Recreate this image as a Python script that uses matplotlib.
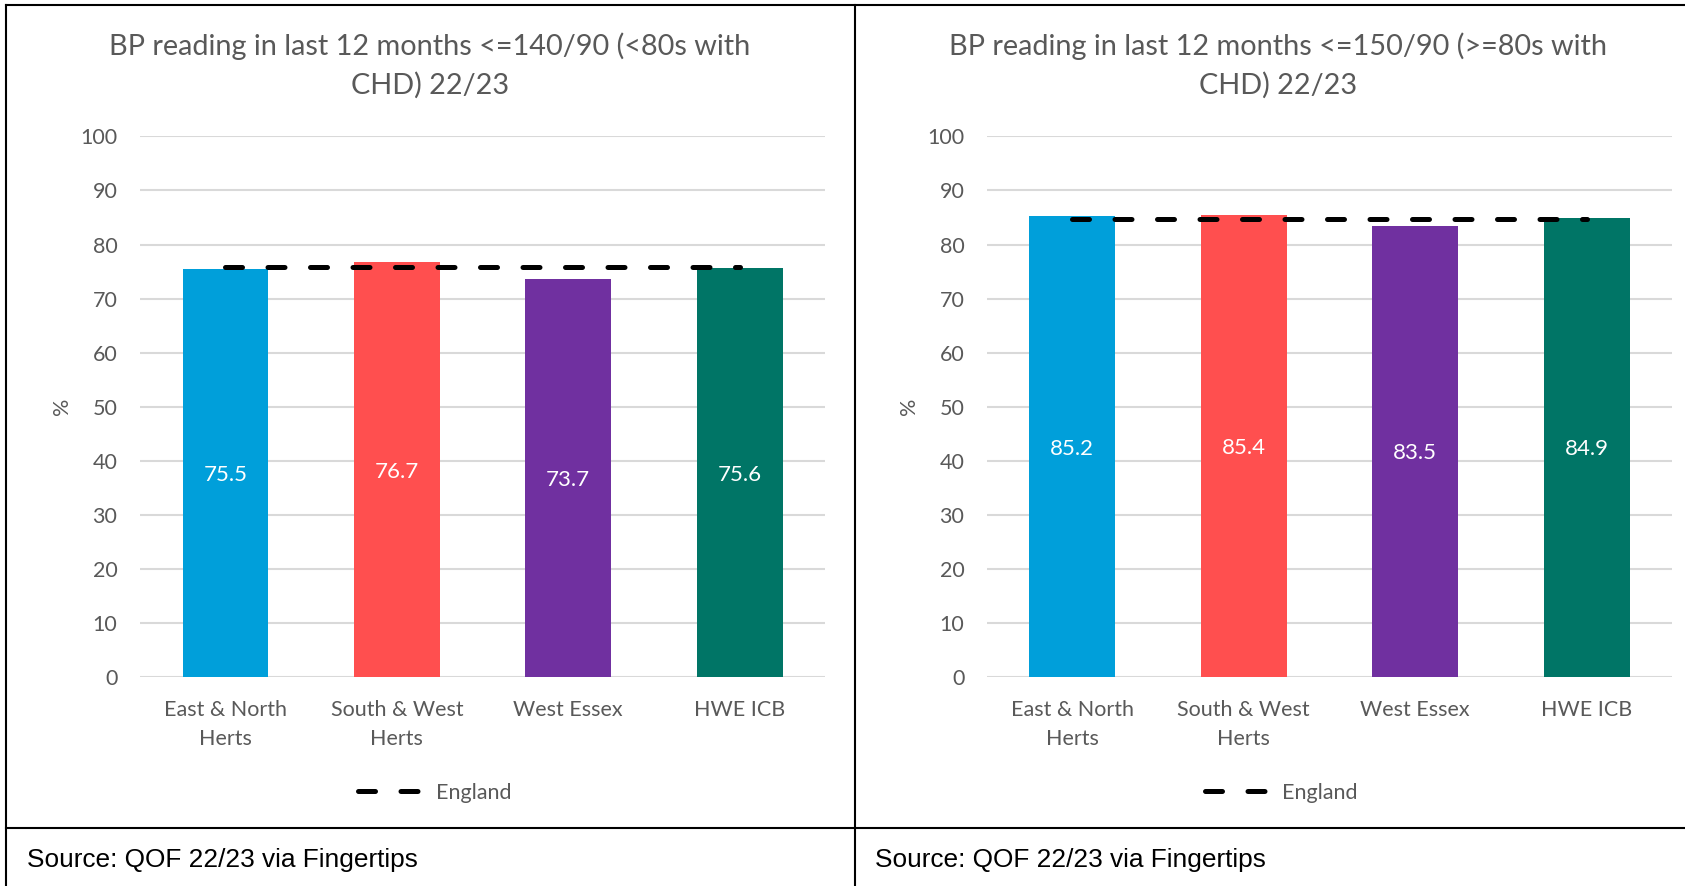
import matplotlib.pyplot as plt
from matplotlib.lines import Line2D

# Data
areas = ['East & North\nHerts', 'South & West\nHerts', 'West Essex', 'HWE ICB']
colours = ['#009FDA', '#FF4F4F', '#7030A0', '#007566']

title_left = 'BP reading in last 12 months <=140/90 (<80s with\nCHD) 22/23'
values_left = [75.5, 76.7, 73.7, 75.6]
england_left = 75.9

title_right = 'BP reading in last 12 months <=150/90 (>=80s with\nCHD) 22/23'
values_right = [85.2, 85.4, 83.5, 84.9]
england_right = 84.7

source = 'Source: QOF 22/23 via Fingertips'

plt.rcParams['font.family'] = ['Lato', 'DejaVu Sans']
grey = '#595959'

fig = plt.figure(figsize=(16.85, 8.86), dpi=100)

# (axes left, title centre x, source x, title, values, england)
panels = [
    (0.0829, 0.2552, 0.016, title_left, values_left, england_left),
    (0.5855, 0.7583, 0.519, title_right, values_right, england_right),
]

for left, tx, sx, title, values, england in panels:
    ax = fig.add_axes([left, 0.236, 0.407, 0.610])
    x = range(len(areas))
    bars = ax.bar(x, values, width=0.5, color=colours, zorder=2)
    for b, v in zip(bars, values):
        ax.text(b.get_x() + b.get_width() / 2, v / 2, f'{v:.1f}', ha='center',
                va='center_baseline', color='white', fontsize=16)
    ax.plot([0, len(areas) - 1], [england, england], color='black', lw=3.6,
            dashes=(3.4, 5.1), dash_capstyle='round', zorder=3, label='England')
    ax.set_xlim(-0.5, len(areas) - 0.5)
    ax.set_ylim(0, 100)
    ax.set_yticks(range(0, 101, 10))
    ax.yaxis.grid(True, color='#D9D9D9', lw=1.5, zorder=0)
    for s in ax.spines.values():
        s.set_visible(False)
    ax.tick_params(length=0, labelsize=15.5, labelcolor=grey)
    ax.tick_params(axis='y', pad=16)
    ax.tick_params(axis='x', pad=16.5)
    ax.set_xticks(list(x))
    ax.set_xticklabels(areas, linespacing=1.58)
    ax.set_ylabel('%', fontsize=15.5, color=grey, labelpad=6)
    fig.text(tx, 0.926, title, fontsize=20.8, color=grey, ha='center', va='center',
             linespacing=1.58)
    ax.legend(loc='upper center', bbox_to_anchor=(0.43, -0.16), frameon=False,
              fontsize=15.5, labelcolor=grey, handlelength=3.0, handletextpad=0.6)
    fig.text(sx, 0.029, source, fontsize=18.9, color='black',
             family=['Liberation Sans', 'DejaVu Sans'], va='center')

# panel borders
lk = dict(color='black', lw=1.5, transform=fig.transFigure)
fig.add_artist(Line2D([0.0038, 1.0], [0.9939, 0.9939], **lk))
fig.add_artist(Line2D([0.0038, 0.0038], [0.0, 0.9939], **lk))
fig.add_artist(Line2D([0.5074, 0.5074], [0.0, 0.9939], **lk))
fig.add_artist(Line2D([0.0038, 1.0], [0.0649, 0.0649], **lk))

fig.savefig('out.png', dpi=100)
